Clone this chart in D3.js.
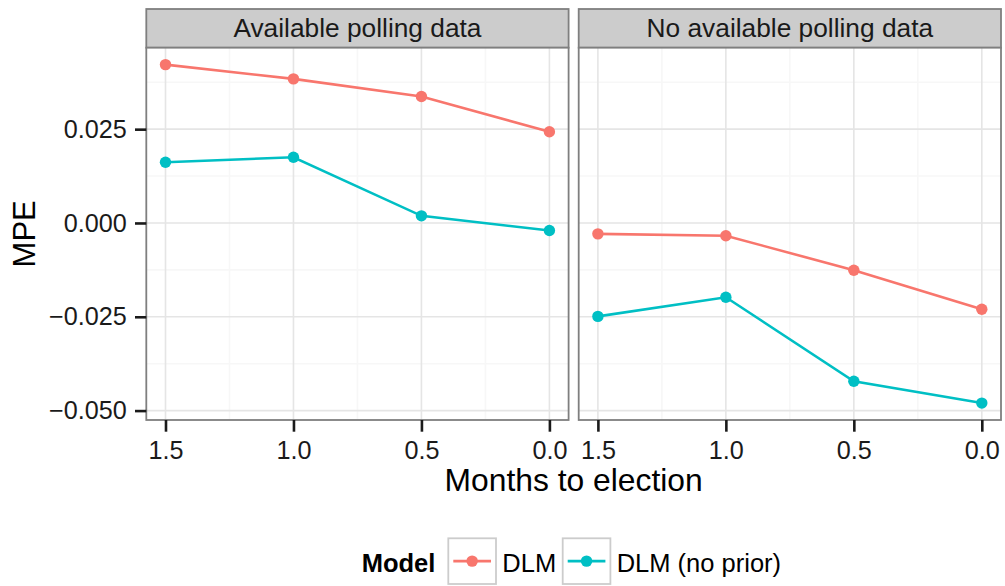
<!DOCTYPE html>
<html>
<head>
<meta charset="utf-8">
<script src="https://cdn.jsdelivr.net/npm/d3@7"></script>
<style>
  html, body { margin: 0; padding: 0; background: #ffffff; }
  svg { display: block; font-family: "Liberation Sans", Arial, Helvetica, sans-serif; }
</style>
</head>
<body>
<svg id="chart" width="1005" height="586"></svg>
<script>
// Months before the election at which forecasts were evaluated
const months = [1.5, 1.0, 0.5, 0.0];
const facets = ["Available polling data", "No available polling data"];
const models = ["DLM", "DLM (no prior)"];
const modelColors = ["#F8766D", "#00BFC4"];

// Mean prediction error per model, by facet
const dlmAvailable = [0.0422, 0.0384, 0.0337, 0.0243];
const noPriorAvailable = [0.0162, 0.0175, 0.0019, -0.0020];
const dlmNoPolls = [-0.0029, -0.0034, -0.0126, -0.0230];
const noPriorNoPolls = [-0.0249, -0.0198, -0.0422, -0.0480];

const yTicks = [-0.050, -0.025, 0.000, 0.025];
const yMinorTicks = [-0.0375, -0.0125, 0.0125, 0.0375];
const xTicks = [1.5, 1.0, 0.5, 0.0];
const xMinorTicks = [1.25, 0.75, 0.25];

const panelSeries = [
  [dlmAvailable, noPriorAvailable],
  [dlmNoPolls, noPriorNoPolls]
];

const svg = d3.select("#chart");
const FONT = "Liberation Sans, Arial, Helvetica, sans-serif";

// Layout (pixels)
const panelTop = 47.7, panelBottom = 420, stripTop = 9;
const panelLefts = [146.3, 578.7];
const panelWidth = 422.3;

// Scales with 5% expansion like ggplot's default continuous scale
const allVals = [].concat(dlmAvailable, noPriorAvailable, dlmNoPolls, noPriorNoPolls);
const yExt = d3.extent(allVals);
const yPad = (yExt[1] - yExt[0]) * 0.05;
const y = d3.scaleLinear().domain([yExt[0] - yPad, yExt[1] + yPad]).range([panelBottom, panelTop]);

const xExt = d3.extent(months);
const xPad = (xExt[1] - xExt[0]) * 0.05;
const xScales = panelLefts.map(l =>
  d3.scaleLinear().domain([xExt[1] + xPad, xExt[0] - xPad]).range([l, l + panelWidth]));

const fmtY = d3.format(".3f");
const fmtX = d3.format(".1f");

facets.forEach((name, i) => {
  const x = xScales[i];
  const left = panelLefts[i];
  const g = svg.append("g");

  // strip
  g.append("rect")
    .attr("x", left).attr("y", stripTop)
    .attr("width", panelWidth).attr("height", panelTop - stripTop)
    .attr("fill", "#cccccc").attr("stroke", "#7f7f7f").attr("stroke-width", 1.8);
  g.append("text")
    .attr("x", left + panelWidth / 2).attr("y", 37.3)
    .attr("text-anchor", "middle")
    .attr("font-size", 26.3).attr("fill", "#1a1a1a")
    .text(name);

  // panel background
  g.append("rect")
    .attr("x", left).attr("y", panelTop)
    .attr("width", panelWidth).attr("height", panelBottom - panelTop)
    .attr("fill", "#ffffff");

  // minor grid
  g.selectAll(".ymin").data(yMinorTicks).join("line")
    .attr("x1", left).attr("x2", left + panelWidth)
    .attr("y1", d => y(d)).attr("y2", d => y(d))
    .attr("stroke", "#f7f7f7").attr("stroke-width", 1.6);
  g.selectAll(".xmin").data(xMinorTicks).join("line")
    .attr("x1", d => x(d)).attr("x2", d => x(d))
    .attr("y1", panelTop).attr("y2", panelBottom)
    .attr("stroke", "#f7f7f7").attr("stroke-width", 1.6);

  // major grid
  g.selectAll(".ymaj").data(yTicks).join("line")
    .attr("x1", left).attr("x2", left + panelWidth)
    .attr("y1", d => y(d)).attr("y2", d => y(d))
    .attr("stroke", "#e5e5e5").attr("stroke-width", 1.6);
  g.selectAll(".xmaj").data(xTicks).join("line")
    .attr("x1", d => x(d)).attr("x2", d => x(d))
    .attr("y1", panelTop).attr("y2", panelBottom)
    .attr("stroke", "#e5e5e5").attr("stroke-width", 1.6);

  // series lines and points
  panelSeries[i].forEach((vals, k) => {
    const pts = months.map((m, j) => [m, vals[j]]);
    g.append("path")
      .datum(pts)
      .attr("fill", "none")
      .attr("stroke", modelColors[k])
      .attr("stroke-width", 2.6)
      .attr("d", d3.line().x(d => x(d[0])).y(d => y(d[1])));
    g.selectAll(".pt" + k).data(pts).join("circle")
      .attr("cx", d => x(d[0])).attr("cy", d => y(d[1]))
      .attr("r", 5.7)
      .attr("fill", modelColors[k]);
  });

  // panel border
  g.append("rect")
    .attr("x", left).attr("y", panelTop)
    .attr("width", panelWidth).attr("height", panelBottom - panelTop)
    .attr("fill", "none").attr("stroke", "#7f7f7f").attr("stroke-width", 1.8);

  // x axis
  const xAxis = svg.append("g")
    .attr("transform", `translate(0,${panelBottom})`)
    .call(d3.axisBottom(x).tickValues(xTicks).tickFormat(fmtX).tickSize(11.7).tickPadding(9.9));
  xAxis.select(".domain").remove();
  xAxis.selectAll(".tick line").attr("stroke", "#1a1a1a").attr("stroke-width", 2.6);
  xAxis.selectAll(".tick text")
    .attr("font-size", 25.2).attr("fill", "#1a1a1a")
    .attr("font-family", FONT);
});

// y axis on the left panel
const yAxis = svg.append("g")
  .attr("transform", `translate(${panelLefts[0]},0)`)
  .call(d3.axisLeft(y).tickValues(yTicks).tickFormat(fmtY).tickSize(11.3).tickPadding(8.3));
yAxis.select(".domain").remove();
yAxis.selectAll(".tick line").attr("stroke", "#1a1a1a").attr("stroke-width", 2.6);
yAxis.selectAll(".tick text")
  .attr("font-size", 25.2).attr("fill", "#1a1a1a")
  .attr("font-family", FONT);

// axis titles
svg.append("text")
  .attr("x", (panelLefts[0] + panelLefts[1] + panelWidth) / 2).attr("y", 491)
  .attr("text-anchor", "middle").attr("font-size", 31.8).attr("fill", "#000")
  .text("Months to election");
svg.append("text")
  .attr("transform", `translate(35,${(panelTop + panelBottom) / 2}) rotate(-90)`)
  .attr("text-anchor", "middle").attr("font-size", 31).attr("fill", "#000")
  .text("MPE");

// legend
const legend = svg.append("g");
legend.append("text")
  .attr("x", 361.7).attr("y", 572)
  .attr("font-size", 25.5).attr("font-weight", "bold").attr("fill", "#000")
  .text("Model");
const keyX = [448.3, 562.7];
const keyW = 47.7, keyTop = 538.3, keyH = 45.7;
models.forEach((m, k) => {
  const kx = keyX[k];
  legend.append("rect")
    .attr("x", kx).attr("y", keyTop).attr("width", keyW).attr("height", keyH)
    .attr("fill", "#ffffff").attr("stroke", "#cccccc").attr("stroke-width", 1.8);
  legend.append("line")
    .attr("x1", kx + 5).attr("x2", kx + keyW - 5)
    .attr("y1", keyTop + keyH / 2).attr("y2", keyTop + keyH / 2)
    .attr("stroke", modelColors[k]).attr("stroke-width", 2.6);
  legend.append("circle")
    .attr("cx", kx + keyW / 2).attr("cy", keyTop + keyH / 2).attr("r", 5.7)
    .attr("fill", modelColors[k]);
  legend.append("text")
    .attr("x", kx + keyW + 6.3).attr("y", 572)
    .attr("font-size", 25.5).attr("fill", "#000")
    .text(m);
});
</script>
</body>
</html>
